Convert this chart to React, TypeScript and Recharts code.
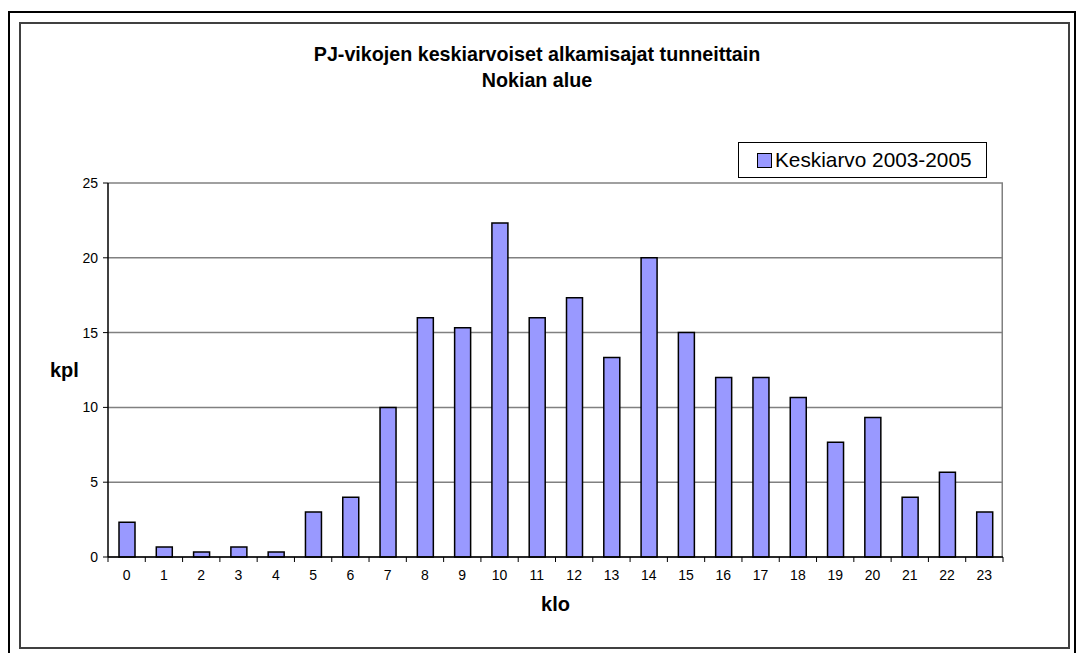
import {
  Bar,
  BarChart,
  CartesianGrid,
  Legend,
  XAxis,
  YAxis,
} from "recharts";

const hours = [
  "0", "1", "2", "3", "4", "5", "6", "7", "8", "9", "10", "11",
  "12", "13", "14", "15", "16", "17", "18", "19", "20", "21", "22", "23",
];
const averages = [
  2.33, 0.67, 0.33, 0.67, 0.33, 3, 4, 10, 16, 15.33, 22.33, 16,
  17.33, 13.33, 20, 15, 12, 12, 10.67, 7.67, 9.33, 4, 5.67, 3,
];
const yTicks = [0, 5, 10, 15, 20, 25];
const seriesName = "Keskiarvo 2003-2005";
const titleLines = ["PJ-vikojen keskiarvoiset alkamisajat tunneittain", "Nokian alue"];

const data = hours.map((h, i) => ({ hour: h, value: averages[i] }));

const W = 1087;
const H = 653;
const plotLeft = 108;
const plotRight = 1003;
const plotTop = 183;
const plotBottom = 557;
const band = (plotRight - plotLeft) / hours.length;
const font = "Arial, 'Liberation Sans', sans-serif";
const boldLabel = { fontFamily: font, fontWeight: "bold", fontSize: 20, fill: "#000" };

const HourTick = (props: any) => {
  const { x, payload, index } = props;
  const left = x - band / 2;
  return (
    <g>
      <line x1={left} y1={plotBottom} x2={left} y2={plotBottom + 5} stroke="#000" />
      {index === hours.length - 1 && (
        <line x1={left + band} y1={plotBottom} x2={left + band} y2={plotBottom + 5} stroke="#000" />
      )}
      <text x={x} y={plotBottom + 23} textAnchor="middle" fontSize={14} fontFamily={font} fill="#000">
        {payload.value}
      </text>
    </g>
  );
};

const LegendBox = () => (
  <div
    style={{
      width: 249,
      height: 36,
      boxSizing: "border-box",
      border: "1px solid #000",
      background: "#fff",
      display: "flex",
      alignItems: "center",
      paddingLeft: 18,
      fontFamily: font,
      fontSize: 20.8,
      color: "#000",
      whiteSpace: "nowrap",
    }}
  >
    <span
      style={{
        display: "inline-block",
        width: 13,
        height: 13,
        background: "#9999FF",
        border: "1px solid #000",
        marginRight: 3,
      }}
    />
    {seriesName}
  </div>
);

// only the right-hand edge of the plot gets a vertical line
const rightEdge = ({ offset }: any) => [offset.left + offset.width - 0.75];

export default function App() {
  return (
    <div style={{ position: "absolute", left: 0, top: 0, width: W, height: H, background: "#fff" }}>
      <div
        style={{
          position: "absolute",
          left: 8,
          top: 11,
          width: 1068,
          height: 645,
          boxSizing: "border-box",
          border: "2px solid #000",
        }}
      />
      <div
        style={{
          position: "absolute",
          left: 19,
          top: 22,
          width: 1051,
          height: 627,
          boxSizing: "border-box",
          border: "2px solid #404040",
        }}
      />
      <div
        style={{
          position: "absolute",
          left: 19,
          top: 41,
          width: 1036,
          textAlign: "center",
          fontFamily: font,
          fontWeight: "bold",
          fontSize: 19.7,
          lineHeight: "26px",
          color: "#000",
        }}
      >
        {titleLines.map((t) => (
          <div key={t}>{t}</div>
        ))}
      </div>
      <div style={{ position: "absolute", left: 0, top: 0 }}>
        <BarChart
          width={W}
          height={H}
          data={data}
          barSize={16}
          margin={{ top: plotTop, right: W - plotRight, bottom: H - plotBottom - 30, left: 0 }}
        >
          <CartesianGrid
            stroke="#808080"
            strokeWidth={1.5}
            verticalCoordinatesGenerator={rightEdge}
          />
          <XAxis
            dataKey="hour"
            height={30}
            axisLine={{ stroke: "#000", strokeWidth: 1.5 }}
            tickLine={false}
            interval={0}
            tick={<HourTick />}
            label={{ value: "klo", position: "bottom", offset: 10, style: boldLabel }}
          />
          <YAxis
            width={plotLeft}
            domain={[0, 25]}
            ticks={yTicks}
            interval={0}
            axisLine={{ stroke: "#000", strokeWidth: 1.5 }}
            tickLine={{ stroke: "#000" }}
            tickSize={5}
            tickMargin={5}
            tick={{ fontSize: 14, fontFamily: font, fill: "#000" }}
            label={{ value: "kpl", position: "insideLeft", offset: 50, style: boldLabel }}
          />
          <Legend
            layout="horizontal"
            align="center"
            verticalAlign="middle"
            wrapperStyle={{ left: 738, top: 142, width: 249 }}
            content={<LegendBox />}
          />
          <Bar
            dataKey="value"
            name={seriesName}
            fill="#9999FF"
            stroke="#000"
            strokeWidth={1.5}
            isAnimationActive={false}
          />
        </BarChart>
      </div>
    </div>
  );
}
